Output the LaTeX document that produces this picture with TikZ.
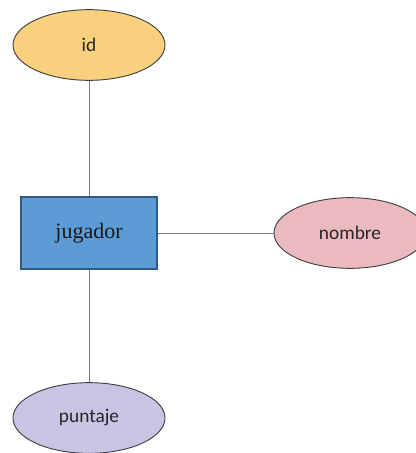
\documentclass[tikz,border=0pt]{standalone}
\usepackage{fontspec}
\setmainfont{Carlito}
\newfontfamily\entfont{Liberation Serif}
\usetikzlibrary{shapes,positioning}

\definecolor{attrYellow}{HTML}{F9D07E}
\definecolor{attrPink}{HTML}{EBBAC0}
\definecolor{attrLilac}{HTML}{CBC3E3}
\definecolor{entBlue}{HTML}{5C9BD6}
\definecolor{entEdge}{HTML}{2E5A86}
\definecolor{linkGray}{HTML}{7A7A7A}

\tikzset{
    attr/.style={ellipse, draw=black!75, line width=0.7pt, minimum width=114pt, minimum height=53pt, inner sep=0pt, text=black!85, font=\fontsize{14.5}{16}\selectfont},
    entity/.style={rectangle, draw=entEdge, line width=1.3pt, fill=entBlue, minimum width=102pt, minimum height=54pt, inner sep=0pt, text=black!90, font=\entfont\fontsize{16.5}{18}\selectfont},
    link/.style={draw=linkGray, line width=0.6pt}
}

\begin{document}
\begin{tikzpicture}[x=0.75pt, y=-0.75pt]
                \useasboundingbox (0,0) rectangle (415,453);

                % Entity
                \node[entity] (jugador) at (89,233) {jugador};

                % Attributes
                \node[attr, fill=attrYellow] (id) at (89,45) {id};
                \node[attr, fill=attrPink] (nombre) at (350,233) {nombre};
                \node[attr, fill=attrLilac] (puntaje) at (89,418) {puntaje};

                % Links
                \draw[link] (id) -- (jugador);
                \draw[link] (jugador) -- (nombre);
                \draw[link] (jugador) -- (puntaje);
            \end{tikzpicture}
\end{document}
